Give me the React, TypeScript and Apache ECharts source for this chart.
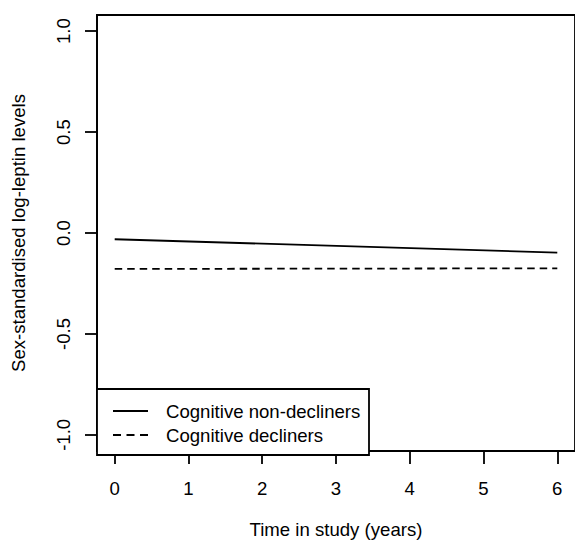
import React, { useEffect, useRef } from "react";
import * as echarts from "echarts";

const years = [0, 6];
const nonDecliners = [-0.031, -0.097];
const decliners = [-0.178, -0.175];
const seriesNames = ["Cognitive non-decliners", "Cognitive decliners"];
const xTicks = [0, 1, 2, 3, 4, 5, 6];
const yTicks = [-1, -0.5, 0, 0.5, 1];
const xTitle = "Time in study (years)";
const yTitle = "Sex-standardised log-leptin levels";

const X_MIN = -0.24;
const X_MAX = 6.24;
const Y_MIN = -1.08;
const Y_MAX = 1.08;

const FONT = "'Liberation Sans', Arial, Helvetica, sans-serif";
const FS = 18.6;

export default function App() {
  const ref = useRef<HTMLDivElement>(null);
  useEffect(() => {
    if (!ref.current) return;
    const chart = echarts.init(ref.current, null, { renderer: "svg" });
    const textStyle = { color: "#000", fontSize: FS, fontFamily: FONT };
    chart.setOption({
      animation: false,
      backgroundColor: "#fff",
      grid: {
        left: 97,
        top: 15,
        width: 478,
        height: 440,
        show: true,
        borderColor: "#000",
        borderWidth: 1.8,
        backgroundColor: "transparent",
      },
      xAxis: {
        type: "value",
        min: X_MIN,
        max: X_MAX,
        axisLine: { show: true, onZero: false, lineStyle: { color: "#000", width: 1.8 } },
        splitLine: { show: false },
        axisTick: {
          show: true,
          length: 13,
          customValues: xTicks,
          lineStyle: { color: "#000", width: 1.8 },
        },
        axisLabel: {
          customValues: xTicks,
          margin: 28,
          ...textStyle,
          formatter: (v: number) => String(v),
        },
        name: xTitle,
        nameLocation: "middle",
        nameGap: 69,
        nameTextStyle: textStyle,
      },
      yAxis: {
        type: "value",
        min: Y_MIN,
        max: Y_MAX,
        axisLine: { show: true, onZero: false, lineStyle: { color: "#000", width: 1.8 } },
        splitLine: { show: false },
        axisTick: {
          show: true,
          length: 12,
          customValues: yTicks,
          lineStyle: { color: "#000", width: 1.8 },
        },
        axisLabel: {
          customValues: yTicks,
          rotate: 90,
          margin: 24,
          ...textStyle,
          formatter: (v: number) => v.toFixed(1),
        },
        name: yTitle,
        nameLocation: "middle",
        nameGap: 69,
        nameTextStyle: textStyle,
      },
      series: [
        {
          name: seriesNames[0],
          type: "line",
          data: years.map((x, i) => [x, nonDecliners[i]]),
          symbol: "none",
          lineStyle: { color: "#000", width: 1.8, type: "solid" },
          z: 3,
        },
        {
          name: seriesNames[1],
          type: "line",
          data: years.map((x, i) => [x, decliners[i]]),
          symbol: "none",
          lineStyle: { color: "#000", width: 1.8, type: [7.5, 5] },
          z: 3,
        },
      ],
      graphic: [
        {
          type: "rect",
          z: 10,
          shape: { x: 97, y: 389, width: 272, height: 66 },
          style: { fill: "#fff", stroke: "#000", lineWidth: 1.8 },
        },
        {
          type: "line",
          z: 11,
          shape: { x1: 113, y1: 411, x2: 148, y2: 411 },
          style: { stroke: "#000", lineWidth: 1.8 },
        },
        {
          type: "text",
          z: 11,
          x: 166,
          y: 411,
          style: {
            text: seriesNames[0],
            fill: "#000",
            fontSize: FS,
            fontFamily: FONT,
            verticalAlign: "middle",
            align: "left",
          },
        },
        {
          type: "line",
          z: 11,
          shape: { x1: 113, y1: 435, x2: 148, y2: 435 },
          style: { stroke: "#000", lineWidth: 1.8, lineDash: [8, 5.5] },
        },
        {
          type: "text",
          z: 11,
          x: 166,
          y: 435,
          style: {
            text: seriesNames[1],
            fill: "#000",
            fontSize: FS,
            fontFamily: FONT,
            verticalAlign: "middle",
            align: "left",
          },
        },
      ],
    });
    return () => chart.dispose();
  }, []);
  return (
    <div
      ref={ref}
      style={{ position: "absolute", left: 0, top: 0, width: 575, height: 544 }}
    />
  );
}
